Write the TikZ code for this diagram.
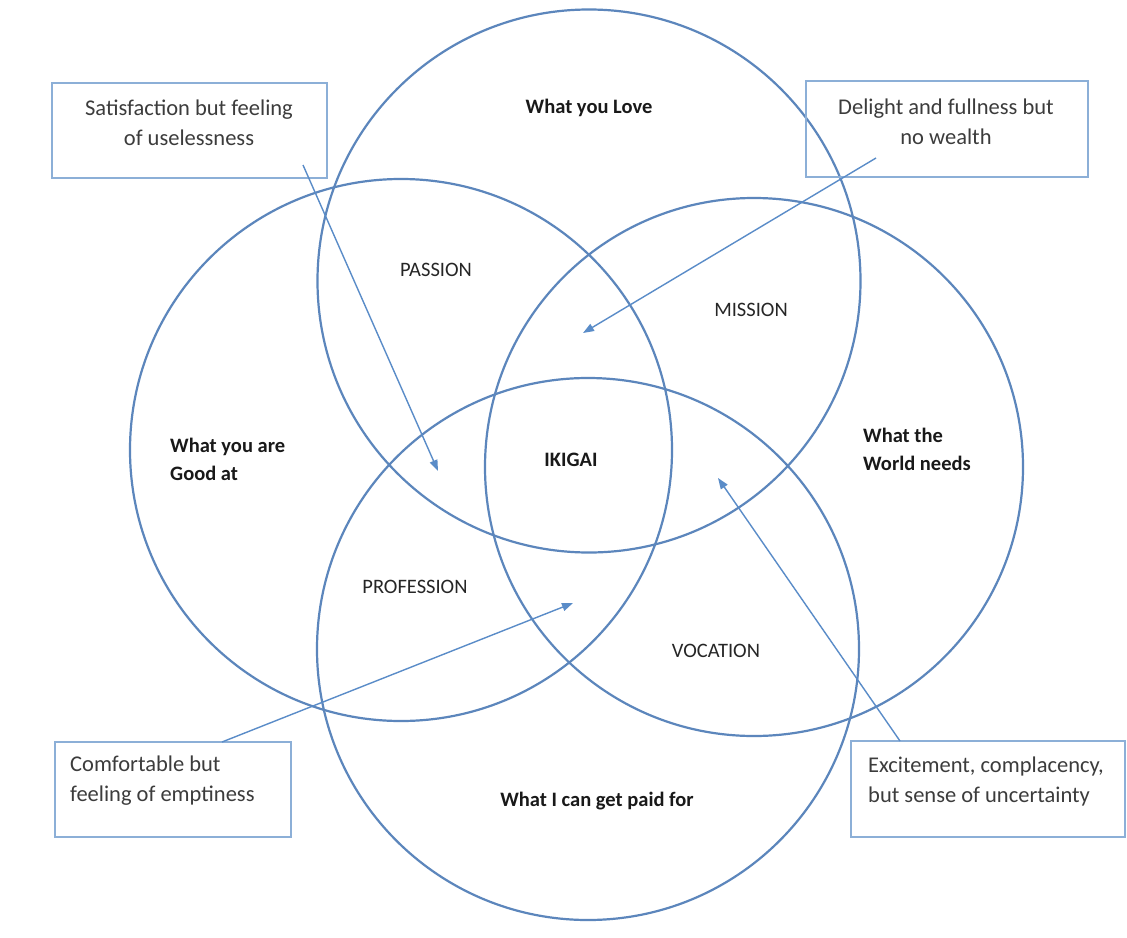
\documentclass[tikz,border=0pt]{standalone}
\usepackage{fontspec}
\setmainfont{Carlito}
\usetikzlibrary{arrows.meta}
\definecolor{circ}{RGB}{92,134,188}
\definecolor{boxc}{RGB}{140,175,215}
\definecolor{arr}{RGB}{90,140,200}
\definecolor{txt}{RGB}{60,60,60}
\tikzset{
  ring/.style={draw=circ, line width=2.2pt},
  notebox/.style={draw=boxc, line width=1.8pt, inner sep=0pt},
  notetext/.style={text=txt, font=\fontsize{22.5}{30}\selectfont, inner sep=0pt},
  lbl/.style={text=black!85, font=\fontsize{20.5}{28}\selectfont, inner sep=0pt},
  blbl/.style={text=black!90, font=\fontsize{20.5}{28}\selectfont\bfseries, inner sep=0pt},
  pointer/.style={draw=arr, line width=1.4pt, -{Triangle[length=11pt,width=8pt]}},
}
\begin{document}
\begin{tikzpicture}[x=1pt,y=-1pt]
\useasboundingbox (0,0) rectangle (1127,937);
\fill[white] (0,0) rectangle (1127,937);
% circles
\node[ring, circle, minimum size=543pt] (love) at (589,281) {};
\node[ring, circle, minimum size=542pt] (good) at (401,450) {};
\node[ring, circle, minimum size=538pt] (world) at (754,467) {};
\node[ring, circle, minimum size=542pt] (paid) at (588,649) {};
% boxes
\node[notebox, minimum width=275pt, minimum height=95pt] (b1) at (189.5,130.5) {};
\node[notebox, minimum width=282pt, minimum height=96pt] (b2) at (947,129) {};
\node[notebox, minimum width=236pt, minimum height=95pt] (b3) at (173,789.5) {};
\node[notebox, minimum width=274pt, minimum height=96pt] (b4) at (988,789) {};
\node[notetext, align=center] (t1) at (189,123) {Satisfaction but feeling\\of uselessness};
\node[notetext, align=center] (t2) at (946,122) {Delight and fullness but\\no wealth};
\node[notetext, align=left, anchor=west] (t3) at (70,781) {Comfortable but\\feeling of emptiness};
\node[notetext, align=left, anchor=west] (t4) at (868,781) {Excitement, complacency,\\but sense of uncertainty};
% labels
\node[blbl] (l1) at (589,108) {What you Love};
\node[lbl] (l2) at (436,270) {PASSION};
\node[lbl] (l3) at (751,310) {MISSION};
\node[blbl, align=left, anchor=west] (l4) at (170,459) {What you are\\Good at};
\node[blbl] (l5) at (571,460) {IKIGAI};
\node[blbl, align=left, anchor=west] (l6) at (863,449) {What the\\World needs};
\node[lbl] (l7) at (415,587) {PROFESSION};
\node[lbl] (l8) at (716,651) {VOCATION};
\node[blbl] (l9) at (597,801) {What I can get paid for};
% arrow ends
\coordinate (e1) at (438,471);
\coordinate (e2) at (583,333);
\coordinate (e3) at (573,603);
\coordinate (e4) at (718,478);
\coordinate (s1) at (303,165);
\coordinate (s2) at (876,158);
\coordinate (s3) at (222,742);
\coordinate (s4) at (900,741);
\draw[pointer] (s1) -- (e1);
\draw[pointer] (s2) -- (e2);
\draw[pointer] (s3) -- (e3);
\draw[pointer] (s4) -- (e4);
\end{tikzpicture}
\end{document}
